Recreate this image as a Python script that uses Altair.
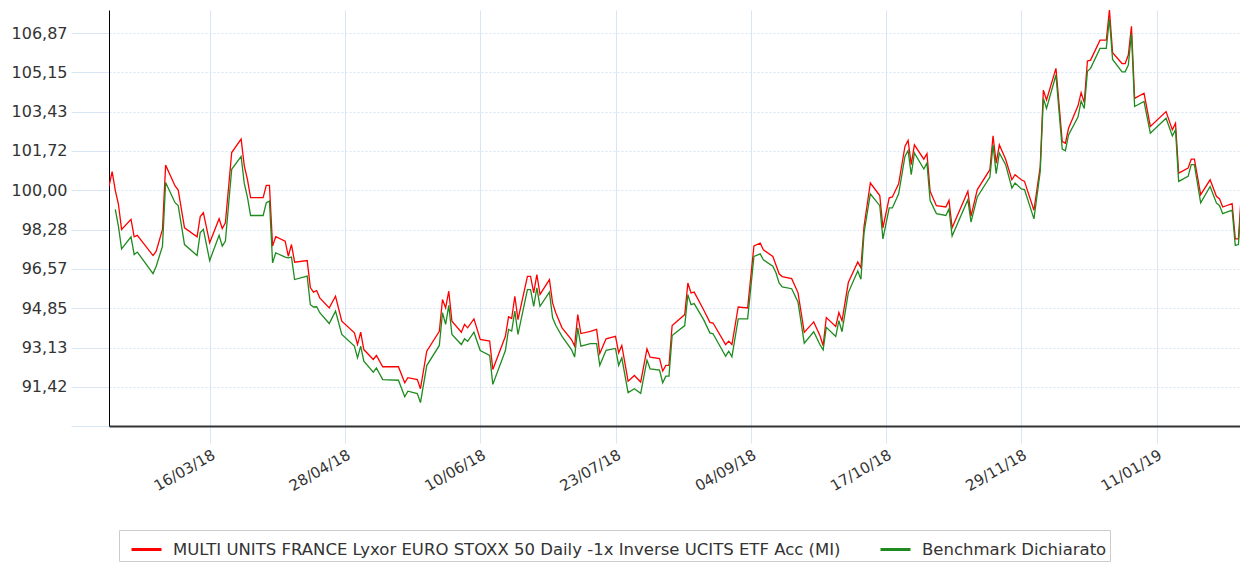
import altair as alt
import pandas as pd

SERIES = [
    "MULTI UNITS FRANCE Lyxor EURO STOXX 50 Daily -1x Inverse UCITS ETF Acc (MI)",
    "Benchmark Dichiarato",
]
COLORS = ["#ff0000", "#1f8b1f"]

dates = [
    "2018-02-12", "2018-02-13", "2018-02-14", "2018-02-15", "2018-02-16", "2018-02-19", "2018-02-20", "2018-02-21",
    "2018-02-26", "2018-02-27", "2018-03-01", "2018-03-02", "2018-03-05", "2018-03-06", "2018-03-08", "2018-03-12",
    "2018-03-13", "2018-03-14", "2018-03-16", "2018-03-19", "2018-03-20", "2018-03-21", "2018-03-23", "2018-03-26",
    "2018-03-27", "2018-03-28", "2018-03-29", "2018-04-02", "2018-04-03", "2018-04-04", "2018-04-05", "2018-04-06",
    "2018-04-09", "2018-04-10", "2018-04-11", "2018-04-12", "2018-04-16", "2018-04-17", "2018-04-18", "2018-04-19",
    "2018-04-20", "2018-04-23", "2018-04-25", "2018-04-27", "2018-05-01", "2018-05-02", "2018-05-03", "2018-05-04",
    "2018-05-07", "2018-05-08", "2018-05-10", "2018-05-15", "2018-05-17", "2018-05-18", "2018-05-21", "2018-05-22",
    "2018-05-24", "2018-05-28", "2018-05-29", "2018-05-30", "2018-05-31", "2018-06-01", "2018-06-04", "2018-06-05",
    "2018-06-06", "2018-06-08", "2018-06-10", "2018-06-13", "2018-06-14", "2018-06-18", "2018-06-19", "2018-06-20",
    "2018-06-21", "2018-06-22", "2018-06-25", "2018-06-26", "2018-06-27", "2018-06-28", "2018-06-29", "2018-07-02",
    "2018-07-03", "2018-07-04", "2018-07-06", "2018-07-09", "2018-07-10", "2018-07-11", "2018-07-12", "2018-07-15",
    "2018-07-17", "2018-07-18", "2018-07-20", "2018-07-23", "2018-07-24", "2018-07-25", "2018-07-27", "2018-07-29",
    "2018-07-31", "2018-08-02", "2018-08-03", "2018-08-06", "2018-08-07", "2018-08-08", "2018-08-09", "2018-08-10",
    "2018-08-14", "2018-08-15", "2018-08-16", "2018-08-17", "2018-08-20", "2018-08-22", "2018-08-23", "2018-08-27",
    "2018-08-28", "2018-08-29", "2018-08-31", "2018-09-03", "2018-09-05", "2018-09-07", "2018-09-08", "2018-09-11",
    "2018-09-12", "2018-09-13", "2018-09-14", "2018-09-17", "2018-09-19", "2018-09-21", "2018-09-24", "2018-09-26",
    "2018-09-27", "2018-09-28", "2018-10-01", "2018-10-02", "2018-10-03", "2018-10-05", "2018-10-08", "2018-10-09",
    "2018-10-10", "2018-10-12", "2018-10-15", "2018-10-16", "2018-10-18", "2018-10-19", "2018-10-21", "2018-10-23",
    "2018-10-24", "2018-10-25", "2018-10-26", "2018-10-29", "2018-10-30", "2018-10-31", "2018-11-02", "2018-11-05",
    "2018-11-06", "2018-11-07", "2018-11-12", "2018-11-13", "2018-11-15", "2018-11-19", "2018-11-20", "2018-11-21",
    "2018-11-22", "2018-11-24", "2018-11-26", "2018-11-27", "2018-11-29", "2018-11-30", "2018-12-03", "2018-12-05",
    "2018-12-06", "2018-12-07", "2018-12-10", "2018-12-12", "2018-12-13", "2018-12-14", "2018-12-17", "2018-12-18",
    "2018-12-19", "2018-12-20", "2018-12-21", "2018-12-24", "2018-12-26", "2018-12-27", "2018-12-28", "2018-12-31",
    "2019-01-01", "2019-01-02", "2019-01-03", "2019-01-04", "2019-01-07", "2019-01-09", "2019-01-14", "2019-01-16",
    "2019-01-17", "2019-01-18", "2019-01-21", "2019-01-22", "2019-01-23", "2019-01-25", "2019-01-28", "2019-01-30",
    "2019-01-31", "2019-02-01", "2019-02-04", "2019-02-05", "2019-02-06", "2019-02-07", "2019-02-08", "2019-02-09",
]

fund = [
    100.17, 100.82, 100.00, 99.39, 98.29, 98.73, 97.97, 98.03,
    97.15, 97.34, 98.29, 101.10, 100.19, 100.01, 98.36, 97.97,
    98.85, 99.02, 97.71, 98.76, 98.33, 98.58, 101.65, 102.24,
    101.07, 100.48, 99.68, 99.68, 100.22, 100.22, 97.56, 97.97,
    97.78, 97.12, 97.63, 96.86, 96.93, 95.75, 95.55, 95.62,
    95.30, 94.86, 95.37, 94.28, 93.77, 93.26, 93.80, 93.04,
    92.61, 92.78, 92.29, 92.29, 91.59, 91.81, 91.73, 91.33,
    92.97, 93.84, 95.23, 94.86, 95.59, 94.28, 93.80, 94.14,
    93.99, 94.38, 93.48, 93.41, 92.17, 93.62, 94.47, 94.40,
    95.37, 94.35, 96.24, 96.24, 95.52, 96.32, 95.45, 96.10,
    95.08, 94.65, 93.99, 93.48, 93.19, 94.57, 93.74, 93.84,
    93.92, 92.87, 93.51, 93.62, 92.90, 93.22, 91.66, 91.91,
    91.62, 93.07, 92.71, 92.65, 92.10, 92.35, 92.35, 94.09,
    94.57, 95.95, 95.51, 95.55, 94.78, 94.23, 94.20, 93.26,
    93.41, 93.26, 94.90, 94.86, 97.57, 97.69, 97.40, 97.11,
    96.74, 96.35, 96.23, 96.14, 95.53, 93.79, 94.25, 93.64,
    93.21, 94.44, 94.05, 94.66, 94.30, 95.97, 96.87, 96.62,
    98.43, 100.32, 99.77, 98.36, 99.67, 99.71, 100.28, 101.92,
    102.18, 101.12, 101.99, 101.36, 101.60, 99.96, 99.33, 99.27,
    99.56, 98.36, 99.96, 98.87, 100.03, 100.90, 102.38, 101.19,
    101.99, 101.36, 100.46, 100.68, 100.46, 100.39, 99.13, 101.04,
    104.38, 103.95, 105.33, 102.13, 102.06, 102.71, 103.69, 104.27,
    103.83, 105.65, 105.69, 106.56, 106.56, 107.88, 106.01, 105.54,
    105.54, 105.91, 107.17, 104.02, 104.24, 102.79, 103.44, 102.64,
    102.93, 100.75, 100.97, 101.36, 101.36, 99.81, 100.46, 99.74,
    99.62, 99.27, 99.42, 97.88, 97.88, 100.03, 100.29, 99.96,
]

bench = [
    None, None, 99.17, 98.42, 97.44, 97.97, 97.19, 97.30,
    96.36, 96.68, 97.56, 100.34, 99.46, 99.33, 97.63, 97.15,
    98.15, 98.29, 96.93, 98.03, 97.56, 97.78, 100.92, 101.48,
    100.30, 99.70, 98.90, 98.90, 99.46, 99.53, 96.83, 97.27,
    97.08, 97.05, 97.08, 96.10, 96.25, 95.00, 94.90, 94.91,
    94.65, 94.18, 94.72, 93.70, 93.19, 92.68, 93.19, 92.53,
    92.05, 92.24, 91.73, 91.70, 90.98, 91.22, 91.12, 90.72,
    92.34, 93.22, 94.65, 94.14, 94.97, 93.70, 93.26, 93.51,
    93.40, 93.80, 93.00, 92.78, 91.52, 93.00, 93.92, 93.85,
    94.72, 93.70, 95.66, 95.66, 94.93, 95.74, 94.93, 95.55,
    94.43, 94.10, 93.62, 93.04, 92.71, 93.99, 93.19, 93.30,
    93.30, 92.35, 93.01, 93.09, 92.35, 92.68, 91.16, 91.33,
    91.13, 92.58, 92.20, 92.14, 91.59, 91.88, 91.88, 93.65,
    94.09, 95.44, 95.00, 95.05, 94.35, 93.77, 93.73, 92.75,
    92.97, 92.72, 94.38, 94.38, 97.11, 97.22, 96.96, 96.68,
    96.40, 95.95, 95.78, 95.70, 95.12, 93.32, 93.82, 93.25,
    93.03, 94.01, 93.61, 94.30, 93.82, 95.53, 96.47, 96.11,
    98.14, 99.85, 99.33, 97.88, 99.23, 99.23, 99.85, 101.48,
    101.74, 100.68, 101.63, 100.93, 101.19, 99.55, 98.98, 98.90,
    99.19, 98.00, 99.59, 98.61, 99.71, 100.58, 101.99, 100.73,
    101.63, 101.12, 100.10, 100.32, 100.06, 100.03, 98.75, 100.83,
    104.02, 103.58, 105.04, 101.80, 101.73, 102.42, 103.20, 103.90,
    103.58, 105.20, 105.33, 106.20, 106.20, 107.50, 105.72, 105.18,
    105.18, 105.47, 106.85, 103.66, 103.88, 102.50, 103.15, 102.38,
    102.64, 100.39, 100.61, 101.12, 101.12, 99.45, 100.17, 99.45,
    99.33, 98.98, 99.13, 97.59, 97.63, 99.67, 100.03, 99.59,
]

# visible window of the time axis (the right end of the original is cropped)
x_range = ["2018-02-12T00:00:00", "2019-02-06T12:00:00"]
x_ticks = ["2018-03-16", "2018-04-28", "2018-06-10", "2018-07-23",
           "2018-09-04", "2018-10-17", "2018-11-29", "2019-01-11"]
y_range = [89.70, 107.88]
y_ticks = [89.70, 91.42, 93.13, 94.85, 96.57, 98.28, 100.00, 101.72, 103.43, 105.15, 106.87]


def ms(s):
    return int(pd.Timestamp(s, tz="UTC").value // 10**6)


rows = []
for d, v in zip(dates, fund):
    rows.append({"date": d, "value": v, "series": SERIES[0]})
for d, v in zip(dates, bench):
    if v is not None:
        rows.append({"date": d, "value": v, "series": SERIES[1]})
df = pd.DataFrame(rows)

GRID = "#d8e5f5"

chart = alt.Chart(df).mark_line(strokeWidth=1.3, clip=True).encode(
    x=alt.X(
        "date:T",
        scale=alt.Scale(type="utc", domain=[ms(x_range[0]), ms(x_range[1])], nice=False),
        axis=alt.Axis(
            values=[ms(t) for t in x_ticks],
            labelExpr="utcFormat(datum.value, '%d/%m/%y')",
            labelAngle=330,
            labelAlign="right",
            labelBaseline="top",
            labelPadding=4,
            labelFontSize=15,
            labelFont="DejaVu Sans",
            labelColor="#333333",
            labelFlush=False,
            labelOverlap=False,
            tickSize=17,
            tickColor=GRID,
            gridColor=GRID,
            domainColor="#333333",
            domainWidth=2,
            title=None,
        ),
    ),
    y=alt.Y(
        "value:Q",
        scale=alt.Scale(domain=y_range, nice=False, zero=False),
        axis=alt.Axis(
            values=y_ticks,
            labelExpr="datum.value < 90 ? '' : replace(format(datum.value, '.2f'), '.', ',')",
            labelFontSize=16,
            labelFont="DejaVu Sans",
            labelColor="#333333",
            labelPadding=4,
            tickSize=38,
            tickColor=GRID,
            gridColor=GRID,
            gridDash=[2, 2],
            domainColor="#000000",
            domainWidth=1,
            title=None,
        ),
    ),
    color=alt.Color(
        "series:N",
        scale=alt.Scale(domain=SERIES, range=COLORS),
        legend=alt.Legend(
            orient="none",
            legendX=10,
            legendY=520,
            direction="horizontal",
            title=None,
            symbolType="stroke",
            symbolStrokeWidth=3,
            symbolSize=900,
            symbolOffset=8,
            labelFontSize=16.5,
            labelFont="DejaVu Sans",
            labelColor="#333333",
            labelLimit=2000,
            labelOffset=10,
            columnPadding=30,
            padding=3,
            strokeColor="#cccccc",
            fillColor="#ffffff",
        ),
    ),
).properties(
    width=1131,
    height=416,
    autosize=alt.AutoSizeParams(type="none"),
    padding={"left": 101, "top": 2, "right": 0, "bottom": 136},
).configure_view(strokeWidth=0)

chart.save("out.html", embed_options={"renderer": "svg", "actions": False})
